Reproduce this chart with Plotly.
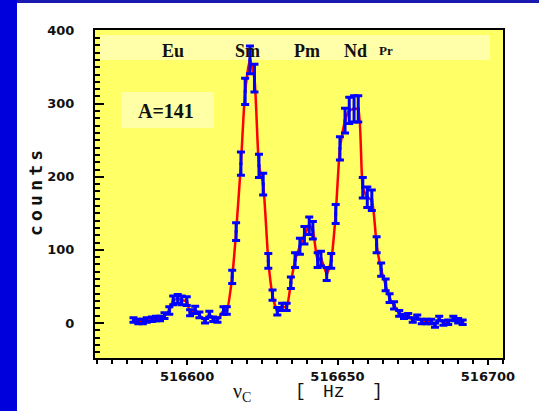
import plotly.graph_objects as go

freq = [516582.2, 516583.8, 516585.3, 516586.6, 516588.3, 516589.7, 516591.0, 516592.5,
        516594.1, 516595.4, 516596.9, 516598.2, 516599.9, 516601.0, 516602.7, 516604.1,
        516606.0, 516607.4, 516608.7, 516610.1, 516612.1, 516613.2, 516615.0, 516616.3,
        516617.9, 516619.3, 516620.9, 516622.4, 516623.9, 516625.3, 516627.0, 516628.4,
        516630.0, 516631.6, 516633.1, 516634.5, 516635.9, 516637.5, 516639.0, 516640.6,
        516641.8, 516643.4, 516644.5, 516646.4, 516647.9, 516649.4, 516650.8, 516652.5,
        516653.9, 516655.5, 516656.9, 516658.4, 516659.9, 516661.4, 516663.0, 516664.5,
        516666.0, 516667.3, 516668.8, 516670.5, 516672.1, 516673.5, 516675.0, 516676.5,
        516678.0, 516679.6, 516681.1, 516682.4, 516683.8, 516685.2, 516686.8, 516688.5,
        516690.1, 516691.6]
counts = [4, 2, 2, 4, 5, 6, 6, 10, 17, 31, 33, 31, 30, 14, 18, 11, 3, 12, 5, 4, 17, 17,
          63, 125, 218, 317, 360, 335, 215, 190, 85, 38, 16, 22, 22, 55, 86, 105, 120, 133,
          127, 86, 88, 67, 85, 149, 239, 277, 291, 293, 293, 185, 172, 168, 107, 73, 52, 34,
          24, 13, 9, 10, 4, 8, 2, 2, 2, -3, 6, 0, 1, 6, 3, 1]
errors = [3, 3, 3, 3, 3, 3, 3, 4, 5, 6, 6, 6, 6, 4, 5, 4, 3, 4, 3, 3, 5, 5,
          9, 12, 16, 18, 19, 19, 16, 15, 10, 7, 5, 5, 5, 8, 10, 11, 12, 12,
          12, 10, 10, 9, 10, 13, 16, 17, 18, 18, 18, 14, 14, 14, 11, 9, 8, 6,
          5, 4, 3, 3, 3, 3, 3, 3, 3, 3, 3, 3, 3, 3, 3, 3]

elements = ["Eu", "Sm", "Pm", "Nd", "Pr"]
element_px = [173, 247, 307, 355, 386]
element_size = [18, 18, 18, 18, 13]

x_ticks = [516600, 516650, 516700]
y_ticks = [0, 100, 200, 300, 400]

fig = go.Figure()
fig.add_trace(go.Scatter(x=freq, y=counts, mode="lines",
                         line=dict(color="#FF0000", width=2.5, shape="spline", smoothing=0.5),
                         hoverinfo="skip", showlegend=False))
fig.add_trace(go.Scatter(x=freq, y=counts, mode="markers",
                         marker=dict(color="#0000FF", size=3, symbol="square"),
                         error_y=dict(type="data", array=errors, color="#0000FF",
                                      thickness=3, width=4),
                         showlegend=False))

W, H = 539, 411
L, R, T, B = 95, 36, 30, 53
pw, ph = W - L - R, H - T - B

def px(x):
    return (x - L) / pw

def py(y):
    return (H - B - y) / ph

shapes = [
    dict(type="rect", xref="paper", yref="paper", x0=px(0), x1=px(17), y0=py(411), y1=py(0),
         fillcolor="#0000DD", line=dict(width=0), layer="below"),
    dict(type="rect", xref="paper", yref="paper", x0=px(17), x1=px(539), y0=py(3), y1=py(0),
         fillcolor="#1A1AB0", line=dict(width=0), layer="below"),
    dict(type="rect", xref="paper", yref="paper", x0=px(100), x1=px(490), y0=py(60), y1=py(35),
         fillcolor="#FFFFAA", line=dict(width=0), layer="below"),
    dict(type="rect", xref="paper", yref="paper", x0=px(121), x1=px(214), y0=py(128), y1=py(92),
         fillcolor="#FFFFA6", line=dict(width=0), layer="below"),
]

def ann(x, y, text, family, size, **kw):
    d = dict(x=px(x), y=py(y), xref="paper", yref="paper", text=text, showarrow=False,
             xanchor="center", yanchor="middle",
             font=dict(family=family, size=size, color="#111111"))
    d.update(kw)
    return d

annotations = []
for name, ex, es in zip(elements, element_px, element_size):
    annotations.append(ann(ex, 51, "<b>%s</b>" % name, "Liberation Serif", es))
annotations.append(ann(166, 111, "<b>A=141</b>", "Liberation Serif", 20))
gap = "<span style='font-size:7px'> </span>"
annotations.append(ann(35, 193, "<b>" + gap.join("counts") + "</b>", "DejaVu Sans Mono", 18,
                       textangle=-90))
annotations.append(ann(242, 392, "ν<sub>C</sub>", "Liberation Serif", 20))
annotations.append(ann(300, 391, "[", "Liberation Mono", 18))
annotations.append(ann(334, 392, "Hz", "Liberation Mono", 18))
annotations.append(ann(377, 391, "]", "Liberation Mono", 18))

fig.update_layout(
    width=W, height=H,
    margin=dict(l=L, r=R, t=T, b=B),
    paper_bgcolor="white",
    plot_bgcolor="#FFFF66",
    shapes=shapes,
    annotations=annotations,
    showlegend=False,
)
fig.update_xaxes(range=[516569.4, 516705.0], tickvals=x_ticks, ticktext=[str(v) for v in x_ticks],
                 ticks="outside", ticklen=5, tickwidth=2, tickcolor="black",
                 minor=dict(dtick=5, tick0=516600, ticks="outside", ticklen=4, tickwidth=2, tickcolor="black"),
                 showline=True, linewidth=2, linecolor="black", mirror=True, showgrid=False,
                 zeroline=False, ticklabelstandoff=0,
                 tickfont=dict(family="DejaVu Sans", size=13, color="#111111", weight="bold"))
fig.update_yaxes(range=[-48, 401], tickvals=y_ticks, ticktext=[str(v) for v in y_ticks],
                 ticks="inside", ticklen=9, tickwidth=2, tickcolor="black",
                 minor=dict(dtick=10, tick0=0, ticks="inside", ticklen=5, tickwidth=2, tickcolor="black"),
                 showline=True, linewidth=2, linecolor="black", mirror=True, showgrid=False,
                 zeroline=False, ticklabelstandoff=16,
                 tickfont=dict(family="DejaVu Sans", size=13, color="#111111", weight="bold"))

fig.write_html("out.html")
